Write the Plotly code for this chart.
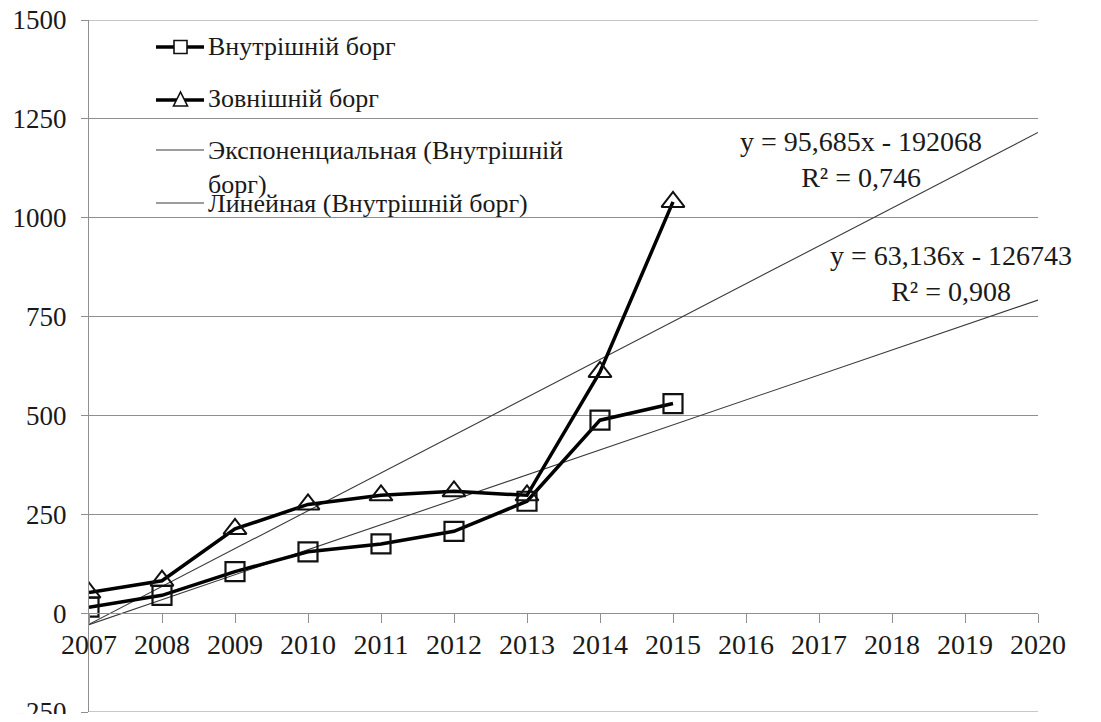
import plotly.graph_objects as go

# ---------------- data ----------------
years = [2007, 2008, 2009, 2010, 2011, 2012, 2013, 2014, 2015]
internal_debt = [15, 45, 105, 155, 175, 207, 283, 488, 530]
external_debt = [52, 82, 213, 275, 298, 308, 298, 610, 1040]

series_names = ["Внутрішній борг", "Зовнішній борг"]
trend_names = ["Экспоненциальная (Внутрішній<br>борг)", "Линейная (Внутрішній борг)"]
trend_slopes = [95.685, 63.136]
trend_intercepts = [-192068, -126743]
trend_equations = ["y = 95,685x - 192068", "y = 63,136x - 126743"]
trend_r2 = ["R² = 0,746", "R² = 0,908"]
trend_years = [2007, 2020]

x_ticks = list(range(2007, 2021))
y_ticks = [-250, 0, 250, 500, 750, 1000, 1250, 1500]
y_tick_text = ["-250", "0", "250", "500", "750", "1000", "1250", "1500"]

# ---------------- layout geometry (page body has an 8px margin) ----------------
OFF = 8
W, H = 1101 - 2 * OFF, 722 - 2 * OFF
ML = 89 - OFF
MT = 20 - OFF
PW = 1038 - 89
PH = 712 - 20
MR = W - ML - PW
MB = H - MT - PH
FONT = "Liberation Serif"
TXT = "#1a1a1a"
GRID = "#8f8f8f"
Y_LO, Y_HI = y_ticks[0], y_ticks[-1]


def px(x):
    return (x - 89) / PW


def py(y):
    return (712 - y) / PH


fig = go.Figure()

# trend lines
for s, b in zip(trend_slopes, trend_intercepts):
    fig.add_trace(go.Scatter(
        x=trend_years, y=[s * t + b for t in trend_years], mode="lines",
        line=dict(color="#3a3a3a", width=1.1), showlegend=False, hoverinfo="skip"))

# data series
fig.add_trace(go.Scatter(
    x=years, y=internal_debt, mode="lines+markers", name=series_names[0],
    line=dict(color="#000000", width=3.5),
    marker=dict(symbol="square-open", size=19, color="#111111", line=dict(width=2.2, color="#111111")),
    showlegend=False))
fig.add_trace(go.Scatter(
    x=years, y=external_debt, mode="lines+markers", name=series_names[1],
    line=dict(color="#000000", width=3.5),
    marker=dict(symbol="triangle-up-open", size=20, color="#111111", line=dict(width=2, color="#111111")),
    showlegend=False))

shapes = []
annotations = []

# boundary gridlines (Plotly drops gridlines lying on the plot edge)
for gv in (Y_LO, Y_HI):
    shapes.append(dict(type="line", xref="paper", yref="y", x0=0, x1=1, y0=gv, y1=gv,
                       layer="below", line=dict(color=GRID, width=1)))

# manual legend (reproduces the original overlapping layout)
legend_rows = [47, 100, 150, 203]
for i, yy in enumerate(legend_rows):
    thick = i < 2
    shapes.append(dict(type="line", xref="paper", yref="paper",
                       x0=px(156), x1=px(204), y0=py(yy), y1=py(yy),
                       line=dict(color="#000000" if thick else "#3a3a3a", width=3.5 if thick else 1.1)))
shapes.append(dict(type="rect", xref="paper", yref="paper",
                   x0=px(174), x1=px(187), y0=py(53.5), y1=py(40.5),
                   line=dict(color="#111111", width=1.6), fillcolor="white"))
shapes.append(dict(type="path", xref="paper", yref="paper",
                   path="M {a},{b} L {c},{b} L {d},{e} Z".format(
                       a=px(173.5), b=py(106), c=px(187.5), d=px(180.5), e=py(92)),
                   line=dict(color="#111111", width=1.6), fillcolor="white"))

legend_texts = [series_names[0], series_names[1], trend_names[0], trend_names[1]]
legend_centers = [46, 99, 167.5, 203]
for t, yy in zip(legend_texts, legend_centers):
    annotations.append(dict(text=t, xref="paper", yref="paper", x=px(206), y=py(yy),
                            xanchor="left", yanchor="middle", showarrow=False, align="left",
                            font=dict(family=FONT, size=26, color=TXT)))

# trend equations
eq_pos = [(861, 160), (951, 273)]
for (ex, ey), eq, r2 in zip(eq_pos, trend_equations, trend_r2):
    annotations.append(dict(text=eq + "<br>" + r2, xref="paper", yref="paper",
                            x=px(ex), y=py(ey), xanchor="center", yanchor="middle",
                            showarrow=False, align="center",
                            font=dict(family=FONT, size=28, color=TXT)))

fig.update_layout(
    width=W, height=H,
    margin=dict(l=ML, r=MR, t=MT, b=MB, pad=0, autoexpand=False),
    plot_bgcolor="white", paper_bgcolor="white",
    font=dict(family=FONT, size=27, color=TXT),
    showlegend=False,
    shapes=shapes, annotations=annotations,
    xaxis=dict(range=[2007, 2020], tickmode="array", tickvals=x_ticks,
               ticktext=[str(v) for v in x_ticks],
               anchor="free", position=(0 - Y_LO) / (Y_HI - Y_LO),
               showline=True, linecolor=GRID, linewidth=1,
               ticks="outside", ticklen=9, tickcolor=GRID, tickwidth=1,
               ticklabelstandoff=-3,
               showgrid=False, zeroline=False, ticklabeloverflow="allow",
               automargin=False,
               tickfont=dict(family=FONT, size=28, color=TXT)),
    yaxis=dict(range=[Y_LO, Y_HI], tickmode="array", tickvals=y_ticks, ticktext=y_tick_text,
               showline=True, linecolor=GRID, linewidth=1,
               ticks="outside", ticklen=7, tickcolor=GRID, tickwidth=1,
               ticklabelstandoff=9, ticklabeloverflow="allow",
               automargin=False,
               showgrid=True, gridcolor=GRID, gridwidth=1, zeroline=False,
               tickfont=dict(family=FONT, size=27, color=TXT)),
)

fig.write_html("out.html")
